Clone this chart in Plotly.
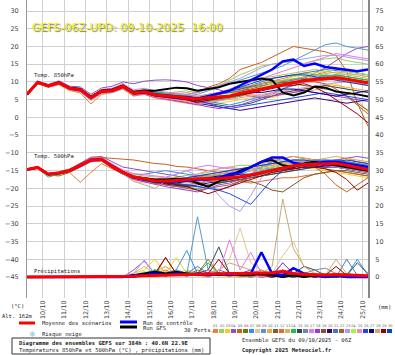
import plotly.graph_objects as go

# ---------------- data ----------------
HOURS = [0, 12, 24, 36, 48, 60, 72, 84, 96, 108, 120, 132, 144, 156, 168, 180, 192,
         204, 216, 228, 240, 252, 264, 276, 288, 300, 312, 324, 336, 348, 360, 372, 384]
DATE_HOURS = [18, 42, 66, 90, 114, 138, 162, 186, 210, 234, 258, 282, 306, 330, 354, 378]
DATE_LABELS = ["10/10", "11/10", "12/10", "13/10", "14/10", "15/10", "16/10", "17/10",
               "18/10", "19/10", "20/10", "21/10", "22/10", "23/10", "24/10", "25/10"]
LEFT_TICKS = [-45, -40, -35, -30, -25, -20, -15, -10, -5, 0, 5, 10, 15, 20, 25, 30]
RIGHT_TICKS = [0, 5, 10, 15, 20, 25, 30, 35, 40, 45, 50, 55, 60, 65, 70, 75]

PERT_COLORS = ["#f08030", "#98d060", "#f0d020", "#9050c0", "#c86020", "#688000", "#3090f0",
               "#e0c890", "#5898c8", "#f0a848", "#786030", "#e86830", "#c8b868", "#20c048",
               "#304858", "#788890", "#e878e8", "#9838e0", "#805828", "#400080", "#4878b8",
               "#a86030", "#b098f0", "#a8f048", "#f088c8", "#2048e8", "#100088", "#c8a878",
               "#980000", "#0048c8"]
PERT_NAMES = ["01", "02", "03", "04", "05", "06", "07", "08", "09", "10", "11", "12", "13", "14", "15",
              "16", "17", "18", "19", "20", "21", "22", "23", "24", "25", "26", "27", "28", "29", "30"]

T850_MEAN = [6.5, 9.9, 8.9, 9.8, 8.2, 7.8, 5.6, 7.4, 7.6, 8.8, 6.9, 7.2, 6.4, 6.0, 5.8, 5.5, 5.2,
             5.6, 5.8, 6.0, 6.8, 7.4, 8.2, 8.8, 9.3, 9.8, 10.4, 10.7, 11.0, 11.2, 10.8, 10.3, 9.8]
T850_CTRL = [6.5, 9.9, 8.9, 9.8, 8.2, 7.8, 5.6, 7.4, 7.6, 8.8, 6.9, 7.2, 6.4, 6.0, 5.7, 5.6, 5.3,
             6.0, 6.8, 7.5, 9.0, 10.5, 11.8, 13.5, 15.8, 16.3, 14.5, 15.2, 14.2, 13.8, 13.5, 13.0, 13.5]
T850_GFS = [6.5, 9.9, 9.0, 9.9, 8.4, 8.0, 5.8, 7.6, 7.9, 9.0, 7.2, 7.6, 7.5, 8.0, 8.4, 8.2, 7.5,
            8.0, 8.5, 9.5, 10.0, 10.5, 11.0, 10.5, 7.0, 6.2, 7.0, 8.7, 8.4, 7.3, 7.0, 6.5, 5.9]
T850_PERTS = [
    [6.3, 9.6, 8.5, 9.2, 7.6, 6.9, 3.8, 6.5, 7.0, 8.0, 6.0, 6.5, 5.5, 5.0, 4.6, 4.0, 3.5, 4.5, 5.5, 6.2, 7.5, 8.5, 9.6, 10.2, 11.0, 11.8, 12.5, 12.0, 12.8, 13.5, 13.0, 12.4, 12.0],
    [6.6, 10.0, 9.0, 9.9, 8.5, 8.3, 6.0, 7.8, 8.2, 9.5, 7.5, 7.8, 7.0, 6.8, 7.2, 7.5, 7.0, 8.0, 9.0, 10.5, 12.0, 13.2, 14.5, 15.0, 15.5, 15.8, 15.2, 16.0, 16.5, 16.8, 16.0, 15.5, 15.0],
    [6.4, 9.8, 8.8, 9.6, 8.0, 7.5, 5.3, 7.0, 7.2, 8.3, 6.5, 6.8, 6.0, 5.5, 5.0, 4.5, 3.8, 4.2, 4.0, 4.5, 5.0, 5.5, 6.0, 5.5, 6.5, 7.0, 7.8, 8.5, 9.0, 9.5, 8.0, 5.0, 1.5],
    [6.7, 10.2, 9.3, 10.3, 8.8, 8.6, 6.5, 8.3, 8.8, 10.0, 9.5, 10.2, 10.5, 10.6, 10.4, 10.0, 9.0, 8.5, 7.8, 7.0, 6.5, 6.0, 5.5, 6.5, 8.0, 9.5, 11.0, 12.5, 14.0, 16.0, 18.0, 19.5, 20.0],
    [6.5, 9.8, 8.8, 9.7, 8.1, 7.7, 5.5, 7.3, 7.5, 8.5, 6.8, 7.0, 6.2, 5.8, 6.0, 6.5, 7.0, 8.5, 9.5, 11.0, 13.5, 14.5, 15.5, 17.0, 18.5, 20.0, 19.5, 19.0, 18.5, 17.5, 13.0, 4.0, -2.5],
    [6.2, 9.5, 8.6, 9.4, 7.9, 7.4, 5.2, 7.2, 7.3, 8.5, 6.6, 6.9, 5.9, 5.4, 5.0, 4.8, 4.5, 5.5, 6.5, 7.5, 8.0, 8.8, 9.5, 10.0, 10.5, 10.8, 11.0, 10.5, 11.2, 12.0, 11.5, 11.0, 10.5],
    [6.6, 10.0, 9.1, 9.9, 8.4, 8.0, 5.8, 7.6, 7.9, 9.0, 7.2, 7.5, 7.0, 6.5, 6.2, 5.8, 5.0, 4.5, 4.0, 3.5, 4.2, 5.0, 6.0, 7.0, 8.0, 9.0, 10.0, 11.0, 12.0, 11.5, 11.0, 10.0, 9.5],
    [6.5, 9.9, 8.9, 9.8, 8.3, 7.9, 5.7, 7.5, 7.7, 8.9, 7.0, 7.4, 6.8, 6.6, 6.5, 6.4, 6.0, 6.5, 7.0, 7.0, 7.5, 8.0, 8.5, 9.0, 9.5, 10.0, 10.5, 10.8, 11.5, 12.0, 12.2, 12.0, 11.5],
    [6.4, 9.7, 8.7, 9.6, 8.0, 7.6, 5.4, 7.2, 7.4, 8.6, 6.7, 7.0, 6.2, 5.9, 5.8, 6.0, 6.5, 7.5, 8.5, 9.5, 10.5, 11.5, 12.5, 13.5, 14.5, 16.0, 17.5, 19.0, 20.5, 21.0, 20.0, 19.5, 19.0],
    [6.3, 9.7, 8.6, 9.5, 7.8, 7.3, 4.8, 6.8, 7.0, 8.2, 6.2, 6.6, 5.7, 5.2, 4.8, 4.5, 4.0, 4.2, 4.8, 5.2, 6.0, 6.5, 6.0, 6.5, 7.0, 7.5, 7.0, 7.8, 8.5, 9.0, 8.5, 8.0, 7.5],
    [6.5, 9.9, 8.9, 9.8, 8.2, 7.9, 5.7, 7.5, 7.8, 9.0, 7.0, 7.3, 6.5, 6.2, 6.0, 5.5, 5.0, 5.8, 6.5, 7.0, 7.5, 8.0, 8.8, 9.5, 9.8, 10.0, 10.5, 11.0, 11.5, 11.0, 10.5, 10.0, 9.5],
    [6.5, 9.8, 8.8, 9.7, 8.0, 7.6, 5.4, 7.2, 7.4, 8.5, 6.5, 6.8, 6.0, 5.5, 5.2, 5.0, 4.2, 4.8, 5.2, 5.5, 6.2, 7.0, 7.8, 8.5, 9.2, 9.5, 10.0, 10.2, 10.5, 10.8, 10.2, 9.8, 9.0],
    [6.4, 9.9, 8.9, 9.9, 8.4, 8.1, 5.9, 7.7, 8.0, 9.2, 7.3, 7.6, 6.8, 6.5, 6.8, 7.0, 7.5, 8.0, 9.0, 9.5, 10.0, 10.5, 11.0, 11.5, 12.0, 12.5, 13.0, 13.5, 13.0, 12.5, 12.0, 11.5, 11.0],
    [6.6, 10.1, 9.2, 10.0, 8.6, 8.2, 6.0, 7.8, 8.1, 9.3, 7.4, 7.8, 7.2, 7.0, 6.6, 6.0, 5.2, 5.0, 4.8, 5.5, 6.0, 7.0, 8.0, 9.0, 10.0, 10.5, 11.5, 12.0, 11.8, 12.0, 11.5, 11.0, 10.5],
    [6.5, 9.9, 8.8, 9.7, 8.1, 7.7, 5.5, 7.3, 7.5, 8.7, 6.8, 7.1, 6.3, 5.9, 5.6, 5.2, 4.5, 4.0, 3.5, 3.0, 3.5, 4.0, 5.0, 6.0, 7.0, 7.5, 8.0, 8.5, 9.0, 8.5, 8.0, 7.5, 7.0],
    [6.5, 9.8, 8.8, 9.6, 8.0, 7.6, 5.4, 7.3, 7.5, 8.7, 6.9, 7.2, 6.6, 6.2, 6.0, 5.8, 5.5, 6.0, 6.5, 6.8, 7.5, 8.5, 9.0, 9.5, 10.0, 10.5, 11.0, 11.2, 11.5, 11.8, 11.0, 10.5, 10.0],
    [6.7, 10.1, 9.1, 10.1, 8.5, 8.2, 6.0, 7.9, 8.2, 9.5, 7.8, 8.2, 7.5, 7.2, 7.0, 6.5, 6.0, 6.5, 7.0, 8.0, 9.0, 10.0, 11.0, 12.0, 13.0, 14.0, 15.0, 16.0, 17.0, 18.0, 17.5, 17.0, 16.5],
    [6.4, 9.7, 8.6, 9.5, 7.9, 7.3, 5.0, 6.9, 7.1, 8.3, 6.3, 6.6, 5.7, 5.1, 4.7, 4.2, 3.5, 3.0, 2.5, 3.0, 3.5, 4.5, 5.5, 6.0, 6.5, 7.0, 7.5, 7.0, 6.5, 6.0, 5.5, 5.0, 4.5],
    [6.5, 9.9, 8.9, 9.8, 8.2, 7.8, 5.6, 7.4, 7.6, 8.8, 6.9, 7.3, 6.6, 6.3, 6.2, 6.0, 5.5, 6.0, 6.6, 7.2, 8.0, 8.8, 9.5, 10.0, 10.0, 9.5, 9.0, 8.5, 8.0, 7.5, 6.0, 4.0, 2.0],
    [6.5, 9.8, 8.8, 9.7, 8.1, 7.7, 5.5, 7.3, 7.5, 8.6, 6.6, 6.9, 6.0, 5.6, 5.3, 5.0, 4.0, 3.5, 3.0, 2.5, 2.0, 2.5, 3.0, 3.5, 4.0, 4.5, 5.0, 5.5, 5.0, 4.5, 4.0, 4.5, 5.0],
    [6.5, 9.9, 9.0, 9.9, 8.3, 8.0, 5.8, 7.6, 7.8, 9.0, 7.1, 7.5, 6.9, 6.6, 6.5, 6.2, 5.8, 6.2, 6.8, 7.5, 8.2, 9.0, 10.0, 11.0, 11.5, 12.0, 12.5, 13.0, 13.5, 13.2, 13.0, 12.5, 12.0],
    [6.4, 9.8, 8.8, 9.7, 8.1, 7.6, 5.4, 7.2, 7.4, 8.6, 6.7, 7.0, 6.2, 5.8, 5.5, 5.2, 4.6, 5.0, 5.4, 5.8, 6.5, 7.2, 8.0, 8.5, 9.0, 9.5, 10.0, 10.0, 9.5, 8.0, 6.0, 3.5, 1.0],
    [6.6, 10.0, 9.0, 9.9, 8.3, 7.9, 5.7, 7.5, 7.7, 9.0, 7.1, 7.4, 6.7, 6.4, 6.2, 6.5, 7.0, 8.0, 9.0, 10.0, 11.0, 12.5, 14.0, 15.0, 15.5, 16.0, 16.5, 17.0, 17.5, 17.5, 17.0, 16.5, 16.0],
    [6.5, 9.9, 8.9, 9.8, 8.2, 7.8, 5.6, 7.4, 7.6, 8.8, 6.9, 7.2, 6.5, 6.1, 5.9, 5.6, 5.0, 5.6, 6.0, 6.5, 7.0, 7.8, 8.5, 9.5, 10.5, 11.5, 12.0, 12.5, 13.0, 13.5, 13.0, 12.5, 12.0],
    [6.3, 9.6, 8.6, 9.5, 7.9, 7.4, 5.2, 7.0, 7.2, 8.4, 6.4, 6.7, 5.8, 5.3, 5.0, 4.6, 3.8, 4.2, 4.6, 5.0, 5.5, 6.0, 6.5, 7.0, 7.5, 8.0, 8.5, 9.0, 9.5, 9.8, 10.0, 9.5, 9.0],
    [6.5, 9.9, 8.9, 9.8, 8.2, 7.8, 5.6, 7.4, 7.6, 8.8, 6.9, 7.2, 6.4, 6.0, 5.8, 5.5, 4.8, 4.0, 3.0, 2.5, 3.0, 3.5, 4.0, 4.5, 5.0, 5.5, 6.0, 6.5, 7.0, 6.5, 6.0, 5.5, 5.0],
    [6.5, 9.8, 8.8, 9.7, 8.1, 7.7, 5.5, 7.4, 7.6, 8.7, 6.8, 7.1, 6.3, 5.9, 5.6, 5.3, 4.8, 5.2, 5.5, 6.0, 6.5, 7.0, 7.0, 7.5, 8.0, 8.0, 7.5, 7.0, 6.5, 6.0, 6.5, 7.0, 7.5],
    [6.5, 9.9, 9.0, 9.8, 8.3, 7.9, 5.7, 7.5, 7.8, 9.0, 7.1, 7.5, 6.8, 6.5, 6.4, 6.2, 5.8, 6.5, 7.0, 7.8, 8.5, 9.0, 9.5, 10.0, 10.5, 11.0, 11.5, 12.0, 12.5, 12.8, 12.5, 12.0, 11.5],
    [6.4, 9.7, 8.7, 9.6, 8.0, 7.5, 5.3, 7.1, 7.3, 8.4, 6.5, 6.8, 6.0, 5.6, 5.4, 5.0, 4.3, 4.8, 5.2, 5.6, 6.2, 6.8, 7.5, 8.2, 8.8, 9.0, 9.5, 8.5, 7.0, 5.0, 3.0, 1.0, -1.5],
    [6.6, 10.0, 9.1, 10.0, 8.4, 8.0, 5.8, 7.6, 7.9, 9.1, 7.2, 7.5, 6.8, 6.4, 6.2, 6.0, 5.5, 6.0, 6.8, 7.5, 8.5, 9.5, 10.5, 11.0, 11.5, 12.0, 12.0, 11.5, 11.0, 10.5, 10.0, 9.5, 9.0],
]

T500_MEAN = [-14.7, -14.1, -16.0, -15.7, -15.0, -13.6, -12.0, -11.8, -13.8, -15.5, -16.8, -17.3, -17.9,
             -17.9, -17.8, -17.6, -17.3, -17.4, -17.3, -16.9, -16.7, -16.2, -15.5, -15.0, -14.2, -13.6,
             -13.3, -13.2, -13.2, -13.0, -13.5, -14.0, -14.7]
T500_CTRL = [-14.7, -14.1, -16.0, -15.7, -15.0, -13.6, -12.0, -11.8, -13.8, -15.5, -16.9, -17.5, -18.0,
             -18.0, -18.0, -17.8, -17.5, -17.5, -17.0, -16.0, -15.5, -14.0, -12.5, -11.3, -11.3, -12.8,
             -13.5, -13.0, -12.5, -12.5, -13.0, -13.5, -14.0]
T500_GFS = [-14.7, -14.1, -16.0, -15.7, -15.0, -13.6, -12.0, -11.8, -13.7, -15.4, -16.8, -17.2, -17.5,
            -17.5, -17.3, -17.5, -18.5, -19.5, -18.0, -16.5, -15.0, -14.0, -12.5, -12.0, -13.5, -14.0,
            -13.0, -12.5, -13.0, -13.5, -14.0, -14.5, -15.0]
T500_PERTS = [
    [-14.8, -14.3, -16.3, -16.0, -15.5, -18.3, -15.5, -13.0, -14.5, -16.0, -17.0, -17.5, -18.0, -18.5, -18.0, -17.5, -17.0, -16.5, -16.0, -15.5, -15.0, -14.5, -14.0, -13.5, -13.0, -12.5, -12.0, -12.5, -13.0, -12.0, -11.5, -12.5, -13.0],
    [-14.6, -14.0, -15.8, -15.5, -14.8, -13.3, -11.6, -11.3, -13.2, -15.0, -16.5, -17.0, -17.5, -17.2, -16.8, -16.5, -16.0, -15.5, -14.5, -14.0, -13.5, -13.5, -13.0, -12.5, -12.0, -12.0, -11.5, -12.0, -12.5, -12.0, -12.5, -13.0, -13.5],
    [-14.7, -14.2, -16.1, -15.8, -15.2, -13.8, -12.3, -12.0, -14.0, -15.8, -17.2, -18.0, -18.8, -19.0, -18.5, -18.0, -17.5, -18.0, -18.5, -18.0, -17.0, -16.5, -16.0, -15.5, -15.0, -14.5, -14.0, -14.5, -15.0, -15.5, -16.0, -16.5, -17.0],
    [-14.5, -13.9, -15.7, -15.4, -14.6, -13.0, -11.2, -11.0, -12.5, -14.0, -14.5, -15.0, -15.5, -16.0, -16.5, -17.0, -18.0, -19.5, -20.5, -19.5, -18.0, -16.0, -14.0, -12.5, -11.5, -11.0, -11.5, -12.0, -12.5, -12.0, -11.5, -11.0, -11.5],
    [-14.6, -14.0, -15.8, -15.3, -14.5, -13.0, -11.5, -11.3, -11.5, -11.8, -12.0, -12.5, -13.0, -13.2, -13.8, -14.0, -14.5, -15.0, -15.5, -15.0, -14.5, -14.0, -13.5, -13.0, -12.5, -12.5, -13.0, -14.0, -16.0, -19.0, -21.0, -19.0, -17.0],
    [-14.8, -14.2, -16.2, -16.5, -15.5, -14.0, -12.5, -12.3, -14.3, -16.0, -17.3, -18.0, -18.5, -18.5, -18.2, -17.8, -17.5, -18.0, -17.5, -17.0, -16.5, -16.0, -15.5, -15.0, -14.5, -14.0, -13.5, -13.0, -13.5, -14.0, -14.5, -15.0, -15.5],
    [-14.7, -14.1, -16.0, -15.6, -14.9, -13.5, -11.9, -11.7, -13.6, -15.2, -16.2, -16.0, -15.5, -15.0, -15.5, -16.0, -16.5, -17.0, -17.5, -17.5, -17.0, -16.0, -15.0, -14.5, -14.0, -13.5, -13.0, -12.5, -12.0, -12.5, -13.0, -13.5, -14.0],
    [-14.6, -14.0, -15.9, -15.6, -14.9, -13.5, -11.9, -11.8, -13.8, -16.0, -18.0, -18.5, -18.0, -17.5, -17.0, -17.0, -16.5, -16.0, -15.5, -15.0, -14.5, -14.0, -13.5, -13.5, -13.0, -13.0, -13.5, -14.0, -14.0, -13.5, -13.5, -14.0, -14.5],
    [-14.7, -14.1, -16.0, -15.7, -15.0, -13.6, -12.0, -11.8, -13.9, -15.5, -16.5, -17.0, -17.5, -17.8, -18.0, -18.5, -18.0, -17.5, -17.0, -16.5, -16.0, -15.0, -14.0, -13.0, -12.5, -12.0, -12.5, -13.0, -12.5, -12.0, -12.5, -13.0, -13.5],
    [-14.8, -14.3, -16.2, -15.9, -15.3, -14.0, -12.5, -12.2, -14.2, -16.0, -17.3, -17.8, -18.3, -18.0, -17.5, -17.0, -16.5, -16.0, -15.5, -15.0, -14.5, -14.0, -13.0, -12.0, -11.5, -11.0, -11.5, -12.0, -11.5, -11.0, -11.5, -12.0, -12.5],
    [-14.7, -14.1, -16.0, -15.7, -15.0, -13.6, -12.0, -11.9, -14.0, -15.8, -17.0, -17.5, -18.2, -18.5, -18.8, -19.0, -18.5, -18.0, -18.5, -18.0, -17.5, -17.0, -16.5, -16.0, -15.5, -15.0, -14.5, -14.0, -13.5, -13.5, -14.0, -14.5, -15.0],
    [-14.7, -14.1, -16.0, -15.7, -15.0, -13.6, -12.0, -11.8, -13.8, -15.5, -16.8, -17.5, -18.5, -19.0, -19.5, -19.0, -18.5, -18.0, -17.5, -17.5, -18.0, -18.5, -18.0, -17.5, -17.0, -17.0, -16.5, -16.0, -15.5, -15.0, -15.5, -16.0, -16.5],
    [-14.6, -14.0, -15.9, -15.6, -14.9, -13.4, -11.8, -11.6, -13.5, -15.0, -16.0, -16.5, -16.8, -17.0, -17.0, -17.2, -17.0, -16.8, -16.5, -16.0, -15.5, -15.0, -14.5, -14.0, -13.5, -13.5, -13.0, -13.0, -13.5, -13.5, -14.0, -14.0, -14.5],
    [-14.9, -14.4, -16.8, -16.0, -15.2, -13.8, -12.2, -12.0, -14.0, -15.8, -17.0, -17.8, -18.5, -19.0, -19.5, -19.8, -20.0, -19.5, -18.5, -17.5, -17.0, -16.5, -16.0, -15.5, -15.0, -14.0, -13.5, -13.0, -13.5, -14.0, -14.5, -15.0, -15.5],
    [-14.7, -14.2, -16.1, -15.8, -15.1, -13.7, -12.1, -11.9, -13.9, -15.6, -17.0, -17.6, -18.2, -18.5, -18.8, -19.2, -19.5, -19.0, -18.5, -18.0, -17.5, -17.0, -16.5, -16.0, -15.5, -15.0, -14.5, -14.0, -14.0, -13.5, -13.5, -14.0, -14.5],
    [-14.7, -14.1, -16.0, -15.7, -15.0, -13.6, -12.0, -11.8, -13.7, -15.3, -16.5, -17.0, -17.5, -17.5, -17.5, -17.0, -16.5, -16.5, -16.0, -15.5, -15.5, -15.0, -14.5, -14.5, -14.0, -13.5, -13.0, -13.0, -12.5, -12.5, -13.0, -13.5, -14.0],
    [-14.6, -14.0, -15.9, -15.5, -14.8, -13.3, -11.6, -11.4, -13.2, -14.8, -15.8, -16.2, -16.5, -16.8, -16.0, -15.0, -14.0, -13.5, -14.0, -14.5, -14.5, -14.0, -13.5, -13.0, -12.5, -12.0, -12.5, -13.0, -13.0, -12.5, -12.0, -12.5, -13.0],
    [-14.8, -14.3, -16.2, -16.0, -15.3, -14.0, -12.4, -12.2, -14.2, -16.0, -17.5, -18.2, -19.0, -19.5, -20.0, -20.5, -21.0, -20.0, -19.0, -18.5, -17.5, -16.5, -15.5, -15.0, -14.5, -14.0, -13.5, -13.0, -13.0, -13.5, -14.0, -14.5, -15.0],
    [-14.7, -14.1, -16.0, -15.7, -15.0, -13.6, -12.0, -11.8, -13.8, -15.5, -16.8, -17.4, -18.0, -18.0, -17.8, -17.5, -17.0, -17.0, -17.5, -18.0, -17.5, -18.0, -19.0, -20.5, -21.0, -19.0, -17.0, -16.0, -15.5, -15.0, -15.0, -15.5, -16.0],
    [-14.7, -14.2, -16.1, -15.8, -15.1, -13.7, -12.1, -11.9, -13.9, -15.6, -17.0, -17.6, -18.4, -18.8, -19.2, -19.5, -19.0, -18.5, -18.0, -17.5, -17.0, -16.5, -16.0, -15.0, -14.5, -14.0, -13.5, -13.5, -14.0, -14.0, -14.5, -15.0, -15.5],
    [-14.7, -14.1, -16.0, -15.7, -15.0, -13.6, -12.0, -11.8, -13.8, -15.5, -16.8, -17.3, -17.9, -17.8, -17.5, -17.0, -16.5, -16.5, -16.5, -16.0, -15.5, -15.0, -14.5, -14.0, -13.5, -13.0, -12.5, -12.0, -12.0, -12.0, -12.5, -13.0, -13.5],
    [-14.7, -14.1, -16.0, -15.7, -15.0, -13.6, -12.0, -11.9, -14.0, -15.8, -17.2, -17.8, -18.5, -19.0, -19.5, -20.0, -20.5, -20.0, -19.5, -19.0, -18.0, -17.0, -16.0, -15.5, -15.0, -14.5, -14.0, -14.0, -14.5, -15.0, -15.5, -16.0, -16.5],
    [-14.6, -14.0, -15.9, -15.6, -14.9, -13.5, -11.9, -11.7, -13.6, -15.2, -16.5, -17.0, -17.5, -17.0, -16.0, -15.0, -16.5, -18.5, -22.0, -25.0, -26.5, -22.0, -17.0, -14.5, -12.5, -12.0, -12.5, -13.0, -13.5, -14.0, -14.5, -15.0, -15.5],
    [-14.7, -14.1, -16.0, -15.7, -15.0, -13.6, -12.0, -11.8, -13.8, -15.5, -16.8, -17.2, -17.8, -18.0, -18.5, -18.0, -17.5, -17.0, -16.5, -16.0, -15.5, -15.0, -14.5, -14.0, -13.5, -13.0, -13.0, -12.5, -12.5, -13.0, -13.0, -13.5, -14.0],
    [-14.7, -14.1, -16.0, -15.7, -15.0, -13.6, -12.0, -11.8, -13.8, -15.5, -16.8, -17.3, -17.9, -17.8, -17.5, -17.0, -16.0, -15.0, -14.5, -14.0, -14.5, -15.0, -15.5, -15.0, -14.5, -14.0, -13.5, -13.0, -13.0, -13.5, -14.0, -14.5, -15.0],
    [-14.7, -14.1, -16.0, -15.7, -15.0, -13.6, -12.0, -11.8, -13.8, -15.5, -16.8, -17.3, -17.9, -18.0, -18.5, -19.0, -19.5, -20.0, -20.5, -21.5, -23.0, -24.5, -21.0, -17.5, -15.0, -14.0, -13.5, -13.0, -13.0, -13.5, -14.0, -14.5, -15.0],
    [-14.7, -14.1, -16.0, -15.7, -15.0, -13.6, -12.0, -11.8, -13.8, -15.5, -16.8, -17.5, -18.3, -18.5, -18.5, -18.0, -17.5, -17.0, -16.5, -16.5, -16.0, -16.0, -15.5, -15.0, -14.5, -14.5, -14.0, -14.0, -13.5, -13.5, -14.0, -14.0, -14.5],
    [-14.7, -14.1, -16.0, -15.7, -15.0, -13.6, -12.0, -11.8, -13.9, -16.0, -18.0, -19.0, -20.0, -18.0, -17.5, -17.0, -17.0, -16.5, -16.0, -15.5, -15.0, -14.5, -14.0, -13.5, -13.0, -12.5, -12.0, -12.5, -13.0, -13.0, -13.5, -14.0, -14.5],
    [-14.7, -14.1, -16.0, -15.7, -15.0, -13.6, -12.0, -11.8, -13.8, -15.5, -16.8, -17.3, -17.9, -18.5, -19.0, -19.5, -20.5, -21.5, -20.5, -19.5, -18.5, -17.5, -16.5, -15.5, -15.0, -14.5, -14.0, -14.0, -14.5, -15.5, -17.5, -20.5, -18.5],
    [-14.7, -14.1, -16.0, -15.7, -15.0, -13.6, -12.0, -11.8, -13.8, -15.5, -16.8, -17.3, -17.9, -17.8, -17.5, -17.0, -16.5, -16.0, -15.5, -15.0, -14.5, -14.0, -13.5, -13.0, -12.5, -12.0, -12.0, -12.5, -13.0, -12.5, -12.0, -12.5, -13.0],
]

PRECIP_MEAN = [0, 0, 0, 0, 0, 0, 0, 0, 0, 0, 0.2, 0.4, 0.5, 0.6, 0.7, 0.7, 0.8, 0.8, 0.9, 1.0,
               1.0, 1.1, 1.0, 1.2, 1.6, 1.0, 0.8, 0.6, 0.6, 0.7, 0.6, 0.5, 0.4]
PRECIP_CTRL = [0, 0, 0, 0, 0, 0, 0, 0, 0, 0, 0.5, 0.5, 1, 0.5, 1, 0.5, 1, 0.5, 1, 0.5,
               1, 1, 7, 1, 0.5, 2.5, 1, 0.5, 0, 0.5, 0, 0, 0]
PRECIP_GFS = [0, 0, 0, 0, 0, 0, 0, 0, 0, 0, 0.5, 1, 1.5, 1, 1.5, 1, 0.5, 1, 0.5, 1,
              0.5, 0.5, 1, 0.5, 0, 0.5, 0, 0.5, 0, 0.5, 0, 0, 0]
PRECIP_PERTS = [
    [0, 0, 0, 0, 0, 0, 0, 0, 0, 0, 0.5, 1, 0.5, 1.5, 0.5, 1, 0.5, 0, 1, 0.5, 0, 0.5, 1, 0.5, 0, 0.5, 0, 0, 0.5, 0, 0, 0.5, 0],
    [0, 0, 0, 0, 0, 0, 0, 0, 0, 0, 0.5, 1.5, 1, 0.5, 2, 1, 1, 4, 0.5, 1, 0.5, 0, 0.5, 1, 0.5, 0, 0, 0.5, 1, 0.5, 0, 0, 0.5],
    [0, 0, 0, 0, 0, 0, 0, 0, 0, 0, 1, 2, 5, 1, 5.5, 1, 0.5, 1, 0.5, 0, 0.5, 1, 0, 0.5, 0, 0, 0.5, 0, 0, 1, 0.5, 0, 0],
    [0, 0, 0, 0, 0, 0, 0, 0, 0, 0, 2, 4.5, 1, 0.5, 1, 0.5, 1, 0.5, 2, 1, 0.5, 0, 1, 0.5, 4, 1, 0.5, 0, 0.5, 0, 0.5, 0, 0],
    [0, 0, 0, 0, 0, 0, 0, 0, 0, 0, 0.5, 1, 2, 1, 0.5, 1.5, 0.5, 1, 0.5, 1, 0.5, 1, 0.5, 0, 0.5, 0, 1, 0.5, 0, 0.5, 0, 0.5, 0],
    [0, 0, 0, 0, 0, 0, 0, 0, 0, 0, 0, 0.5, 1, 0.5, 1, 0.5, 1, 0.5, 1, 0.5, 1, 0.5, 0, 0.5, 1, 0.5, 0, 0.5, 0, 0.5, 1, 0.5, 0],
    [0, 0, 0, 0, 0, 0, 0, 0, 0, 0, 0.5, 1, 2, 1, 2, 7.5, 1, 0.5, 1, 0.5, 1, 0.5, 0, 0.5, 1, 0, 0.5, 0, 0.5, 0, 0.5, 5, 0.5],
    [0, 0, 0, 0, 0, 0, 0, 0, 0, 0, 0, 0.5, 1, 3, 1, 2, 1, 0.5, 2, 5, 13.8, 4, 2, 1, 6, 10, 3, 1, 0.5, 0, 0.5, 0, 0],
    [0, 0, 0, 0, 0, 0, 0, 0, 0, 0, 0.5, 1, 0.5, 1, 2, 1, 17, 2, 1, 0.5, 1, 0.5, 0, 0.5, 1, 0, 0.5, 0, 0.5, 0, 0.5, 0, 0],
    [0, 0, 0, 0, 0, 0, 0, 0, 0, 0, 0.5, 1, 1.5, 3, 1, 0.5, 1, 0.5, 1, 0.5, 0, 1, 0.5, 0, 0.5, 1, 0.5, 0, 0.5, 0, 0, 0.5, 0],
    [0, 0, 0, 0, 0, 0, 0, 0, 0, 0, 0, 0.5, 1, 0.5, 1, 0.5, 2, 1, 0.5, 1, 0.5, 0, 0.5, 1, 0.5, 0, 0.5, 0, 0.5, 0, 0, 0.5, 0],
    [0, 0, 0, 0, 0, 0, 0, 0, 0, 0, 0.5, 0.5, 1, 2, 0.5, 1, 0.5, 1, 0.5, 1, 0.5, 1, 2, 0.5, 0, 0.5, 0, 0.5, 0, 0.5, 0, 0, 0.5],
    [0, 0, 0, 0, 0, 0, 0, 0, 0, 0, 1, 3, 1, 0.5, 1, 0.5, 1, 2, 0.5, 1, 0.5, 0, 0.5, 1, 0.5, 0, 0.5, 0, 1, 0.5, 0, 0.5, 0],
    [0, 0, 0, 0, 0, 0, 0, 0, 0, 0, 0.5, 1, 2, 1, 0.5, 1.5, 1, 4, 1, 0.5, 1, 0.5, 0, 0.5, 1, 0.5, 0, 0.5, 0, 1, 0.5, 0, 0.5],
    [0, 0, 0, 0, 0, 0, 0, 0, 0, 0, 0, 0.5, 1, 0.5, 1, 0.5, 1, 2, 8.5, 1, 0.5, 1, 0.5, 0, 2, 1, 3, 2, 0.5, 0, 0.5, 4, 1],
    [0, 0, 0, 0, 0, 0, 0, 0, 0, 0, 0.5, 0.5, 1, 0.5, 1, 0.5, 1, 0.5, 1, 0.5, 1, 0.5, 1, 0.5, 0, 0.5, 1, 2, 2.5, 1, 0.5, 0, 0],
    [0, 0, 0, 0, 0, 0, 0, 0, 0, 0, 0.5, 1, 0.5, 1, 1.5, 1, 0.5, 2, 1, 10.5, 2, 7, 1, 0.5, 1, 0.5, 0, 0.5, 0, 0.5, 0, 0, 0],
    [0, 0, 0, 0, 0, 0, 0, 0, 0, 0, 0, 0.5, 1, 0.5, 1, 0.5, 1, 0.5, 1, 0.5, 1, 2, 1, 0.5, 4, 1, 0.5, 0, 0.5, 0, 0.5, 0, 0],
    [0, 0, 0, 0, 0, 0, 0, 0, 0, 0, 0.5, 1, 0.5, 1, 0.5, 1, 0.5, 1, 0.5, 1, 0.5, 1, 0.5, 0, 0.5, 0, 0.5, 0, 0, 0.5, 0, 0, 0],
    [0, 0, 0, 0, 0, 0, 0, 0, 0, 0, 0, 0.5, 0.5, 1, 0.5, 1, 0.5, 1, 0.5, 1, 0.5, 1, 0.5, 0.5, 0, 0.5, 0, 0.5, 0, 0, 0.5, 0, 0],
    [0, 0, 0, 0, 0, 0, 0, 0, 0, 0, 0.5, 1, 0.5, 1, 0.5, 1, 3, 1, 0.5, 1, 0.5, 1, 0.5, 0, 0.5, 0, 0.5, 0, 0.5, 0, 5, 0.5, 0.5],
    [0, 0, 0, 0, 0, 0, 0, 0, 0, 0, 0.5, 1, 0.5, 5.5, 1, 0.5, 1, 5, 1, 0.5, 1, 0.5, 0, 0.5, 1, 0.5, 0, 0.5, 0, 0.5, 0, 0, 0],
    [0, 0, 0, 0, 0, 0, 0, 0, 0, 0, 1, 4.8, 1, 0.5, 1, 0.5, 1, 0.5, 1, 0.5, 1, 0.5, 0, 0.5, 1, 0.5, 0, 0.5, 0, 0.5, 0, 0, 0],
    [0, 0, 0, 0, 0, 0, 0, 0, 0, 0, 0.5, 1, 0.5, 1, 0.5, 1, 0.5, 1, 0.5, 1, 0.5, 0.5, 1, 0.5, 0, 0.5, 0, 0.5, 0, 0.5, 0, 0, 0],
    [0, 0, 0, 0, 0, 0, 0, 0, 0, 0, 0, 0.5, 1, 0.5, 1, 0.5, 1, 0.5, 1, 0.5, 1, 0.5, 0, 0.5, 1, 0.5, 0, 0.5, 0, 0.5, 0, 0, 0],
    [0, 0, 0, 0, 0, 0, 0, 0, 0, 0, 0.5, 1, 0.5, 1, 0.5, 1, 0.5, 1, 0.5, 1, 0.5, 1, 0.5, 1, 0.5, 0, 0.5, 0, 0.5, 0, 0.5, 0, 0],
    [0, 0, 0, 0, 0, 0, 0, 0, 0, 0, 0, 0.5, 1, 0.5, 1, 0.5, 1, 0.5, 1, 0.5, 1, 0.5, 1, 0.5, 0, 0.5, 0, 0.5, 0, 0, 0.5, 0, 0],
    [0, 0, 0, 0, 0, 0, 0, 0, 0, 0, 0.5, 1, 0.5, 1, 0.5, 1, 0.5, 1, 2, 4, 3, 2, 1, 3, 22, 8, 3, 1, 0.5, 5, 1, 0.5, 0],
    [0, 0, 0, 0, 0, 0, 0, 0, 0, 0, 0.5, 1, 1, 5.5, 1, 0.5, 1, 1, 5, 1, 0.5, 1, 0.5, 0, 0.5, 1, 0.5, 0, 0.5, 3, 0.5, 0, 0],
    [0, 0, 0, 0, 0, 0, 0, 0, 0, 0, 0.5, 0.5, 1, 0.5, 1, 0.5, 1, 0.5, 1, 0.5, 1, 0.5, 1, 0.5, 0, 0.5, 0, 0.5, 0, 0, 0.5, 0, 0],
]

for grp in (T850_PERTS, T500_PERTS, PRECIP_PERTS):
    for s in grp:
        assert len(s) == len(HOURS), len(s)

# ---------------- figure ----------------
W, H = 395, 355
L, R, T, B = 27, 27, 0, 57
PW, PH = W - L - R, H - T - B


def px(x):
    return (x - L) / PW


def py(y):
    return (H - B - y) / PH


fig = go.Figure()

for i in range(30):
    c = PERT_COLORS[i]
    fig.add_trace(go.Scatter(x=HOURS, y=T850_PERTS[i], mode="lines", line=dict(color=c, width=1), hoverinfo="skip"))
    fig.add_trace(go.Scatter(x=HOURS, y=T500_PERTS[i], mode="lines", line=dict(color=c, width=1), hoverinfo="skip"))
    fig.add_trace(go.Scatter(x=HOURS, y=PRECIP_PERTS[i], yaxis="y2", mode="lines", line=dict(color=c, width=1), hoverinfo="skip"))

for series, axis in ((T850_GFS, "y"), (T500_GFS, "y"), (PRECIP_GFS, "y2")):
    fig.add_trace(go.Scatter(x=HOURS, y=series, yaxis=axis, mode="lines", line=dict(color="#000000", width=2), hoverinfo="skip"))
for series, axis in ((T850_CTRL, "y"), (T500_CTRL, "y"), (PRECIP_CTRL, "y2")):
    fig.add_trace(go.Scatter(x=HOURS, y=series, yaxis=axis, mode="lines", line=dict(color="#0000ff", width=2.5), hoverinfo="skip"))
for series, axis in ((T850_MEAN, "y"), (T500_MEAN, "y"), (PRECIP_MEAN, "y2")):
    fig.add_trace(go.Scatter(x=HOURS, y=series, yaxis=axis, mode="lines", line=dict(color="#ff0000", width=3), hoverinfo="skip"))

TICKFONT = dict(family="DejaVu Sans", size=6.5, color="#444")
MONO = "DejaVu Sans Mono"

annotations = []


def txt(x, y, s, size=6, color="#222", anchor="left", bold=False, family=MONO):
    annotations.append(dict(x=px(x), y=py(y), xref="paper", yref="paper", text=("<b>%s</b>" % s) if bold else s,
                            showarrow=False, xanchor=anchor, yanchor="middle",
                            font=dict(family=family, size=size, color=color)))


annotations.append(dict(x=px(30), y=py(28), xref="paper", yref="paper", text="GEFS-06Z-UPD: 09-10-2025  16:00",
                        showarrow=False, xanchor="left", yanchor="middle",
                        font=dict(family="DejaVu Sans", size=11, color="#f2f200", shadow="1px 1px 1px #777")))
txt(32, 76, "Temp. 850hPa", 5.5)
txt(32, 156, "Temp. 500hPa", 5.5)
txt(32, 271, "Précipitations", 5.5)
txt(9, 306, "(°C)", 5.5)
txt(0, 316, "Alt. 162m", 5.5)
txt(376, 307, "(mm)", 5.5)
txt(40, 323, "Moyenne des scénarios", 5.5)
txt(141, 323, "Run de contrôle", 5.5)
txt(141, 328, "Run GFS", 5.5)
txt(40, 334, "Risque neige", 5.5)
annotations.append(dict(x=px(32), y=py(334), xref="paper", yref="paper", text="❄", showarrow=False,
                        xanchor="center", yanchor="middle", font=dict(family="DejaVu Sans", size=8, color="#80c0f0")))
txt(182, 330, "30 Perts.", 5.5)
txt(17, 343, "Diagramme des ensembles GEFS sur 384h : 40.6N 22.9E", 5.5, bold=True)
txt(17, 350, "Températures 850hPa et 500hPa (°C) , précipitations (mm)", 5.5)
txt(240, 340, "Ensemble GEFS du 09/10/2025 - 06Z", 5.5)
txt(240, 350, "Copyright 2025 Meteociel.fr", 5.5, bold=True)

shapes = [
    dict(type="line", xref="paper", yref="paper", x0=px(19), x1=px(35), y0=py(323), y1=py(323),
         line=dict(color="#ff0000", width=3)),
    dict(type="line", xref="paper", yref="paper", x0=px(120), x1=px(137), y0=py(322), y1=py(322),
         line=dict(color="#0000ff", width=3)),
    dict(type="line", xref="paper", yref="paper", x0=px(120), x1=px(137), y0=py(327), y1=py(327),
         line=dict(color="#000000", width=3)),
    dict(type="rect", xref="paper", yref="paper", x0=px(12), x1=px(210), y0=py(338), y1=py(354),
         line=dict(color="#333", width=1), fillcolor="rgba(0,0,0,0)"),
]
for i in range(30):
    cx = 215.5 + i * 6.0
    shapes.append(dict(type="rect", xref="paper", yref="paper", x0=px(cx - 2.5), x1=px(cx + 2.5),
                       y0=py(333), y1=py(329), line=dict(width=0), fillcolor=PERT_COLORS[i]))
    annotations.append(dict(x=px(cx), y=py(325.5), xref="paper", yref="paper", text=PERT_NAMES[i],
                            showarrow=False, xanchor="center", yanchor="middle",
                            font=dict(family="DejaVu Sans", size=3.5, color="#555")))

fig.update_layout(
    width=W, height=H, margin=dict(l=L, r=R, t=T, b=B, pad=0),
    paper_bgcolor="white", plot_bgcolor="white", showlegend=False,
    xaxis=dict(range=[0, 384], tickmode="array", tickvals=DATE_HOURS, ticktext=DATE_LABELS, tickangle=-90,
               showgrid=True, gridcolor="#d0d0d0", gridwidth=1, zeroline=False, showline=False, ticks="",
               tickfont=TICKFONT, fixedrange=True),
    yaxis=dict(range=[-50.9, 33.1], tickmode="array", tickvals=LEFT_TICKS, showgrid=True, gridcolor="#d0d0d0",
               gridwidth=1, zeroline=False, showline=True, linecolor="#999", linewidth=1, ticks="",
               tickfont=TICKFONT, ticklabelstandoff=6, fixedrange=True),
    yaxis2=dict(range=[-5.9, 78.1], overlaying="y", side="right", tickmode="array", tickvals=RIGHT_TICKS,
                showgrid=False, zeroline=False, showline=True, linecolor="#888", linewidth=2, ticks="",
                tickfont=TICKFONT, ticklabelstandoff=4, fixedrange=True),
    annotations=annotations, shapes=shapes,
)

fig.write_html("out.html", config={"displayModeBar": False},
               post_script="document.body.style.margin='0px';document.body.style.overflow='hidden';")
